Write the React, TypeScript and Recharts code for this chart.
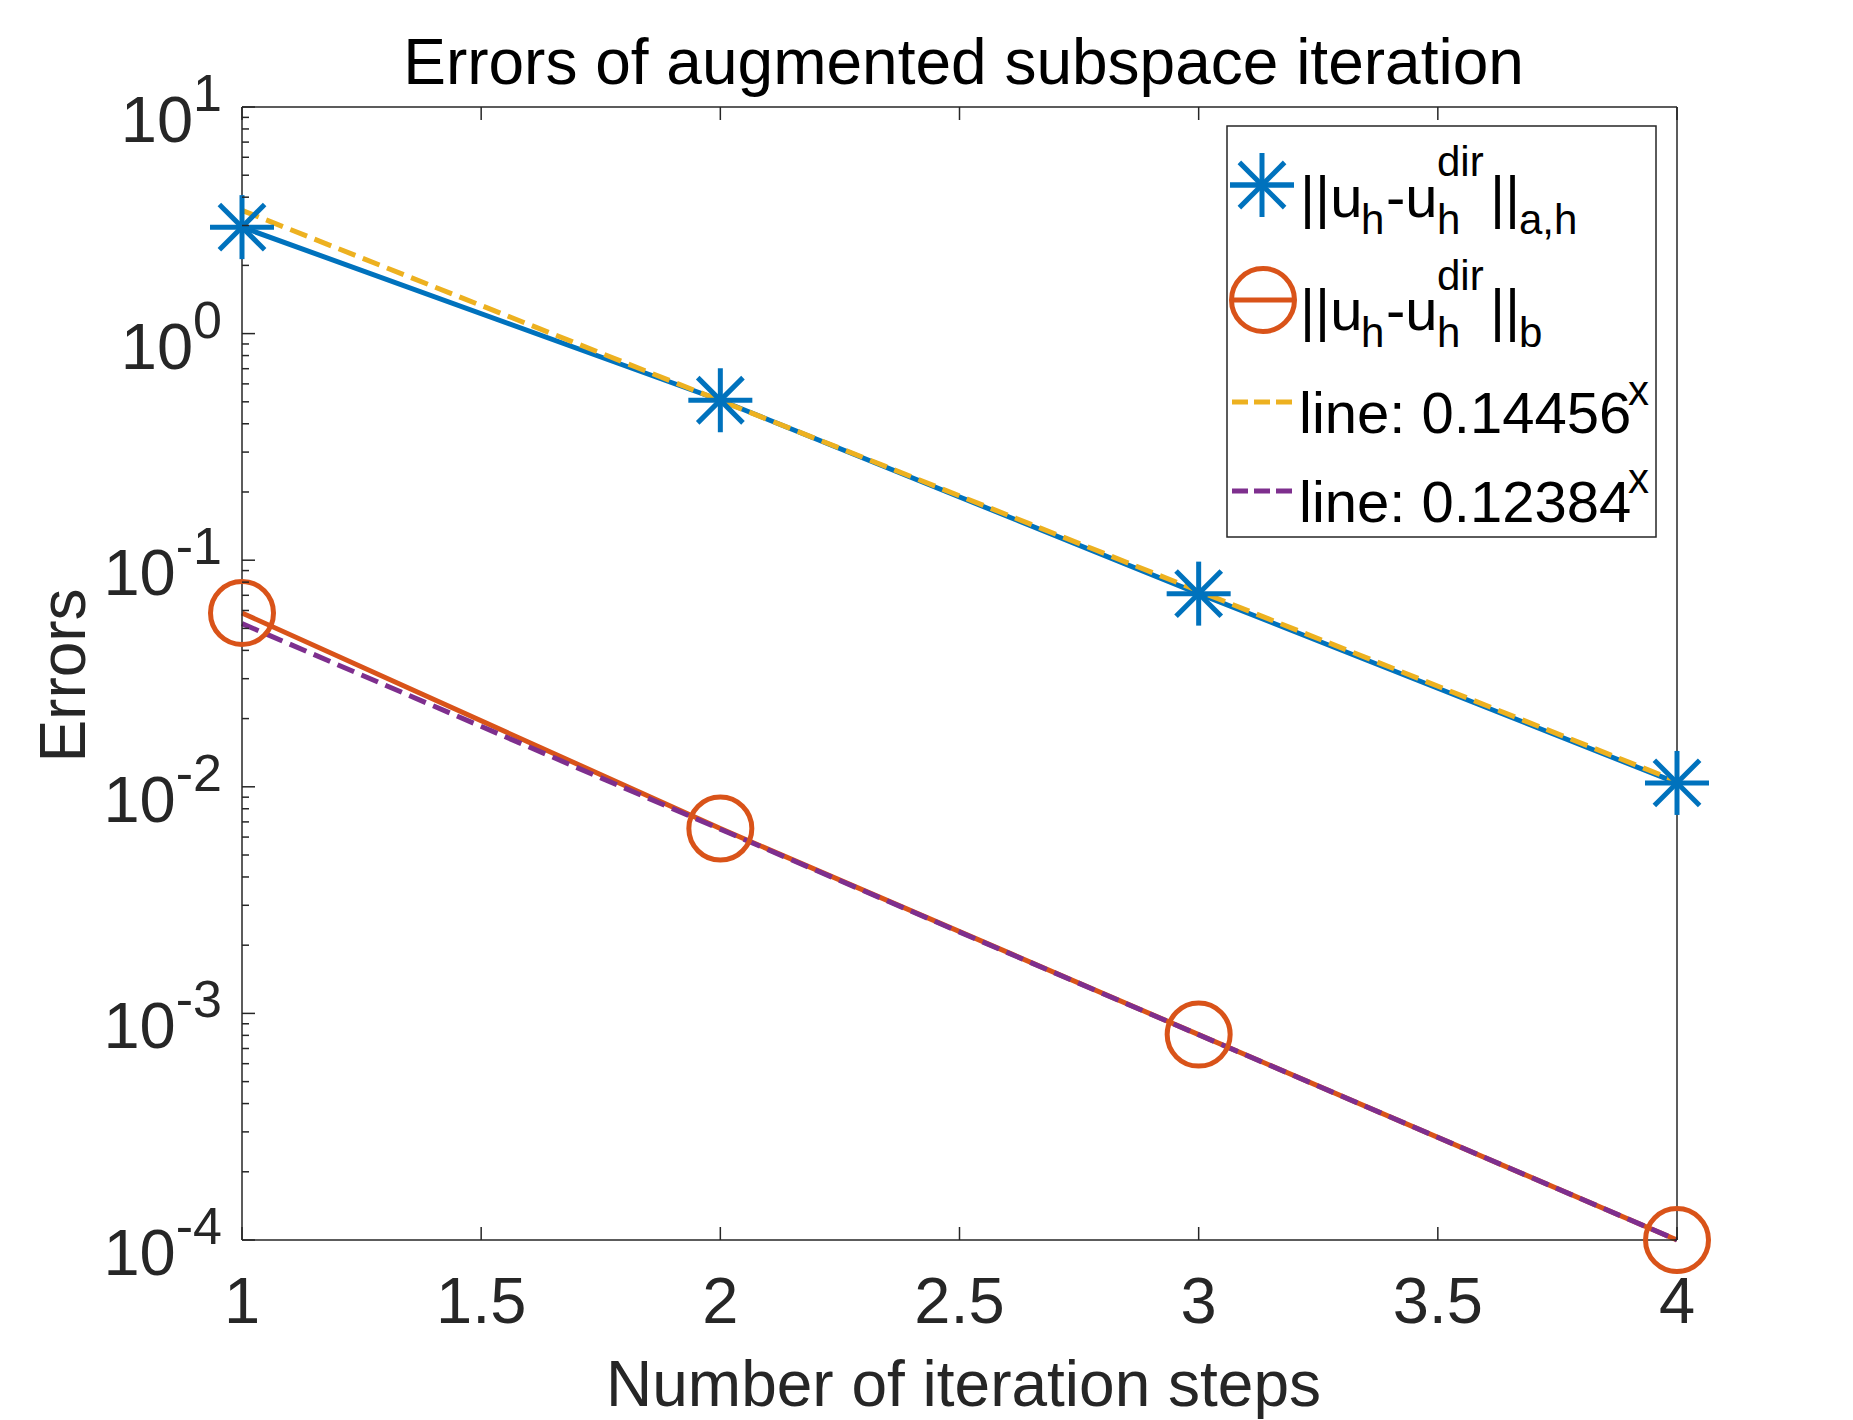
import React from "react";
import { LineChart, Line, XAxis, YAxis, Label } from "recharts";

// iteration step on the x axis
const steps = [1, 2, 3, 4];
// ||u_h - u_h^dir||_{a,h}
const errAH = [2.95, 0.508, 0.0712, 0.0104];
// ||u_h - u_h^dir||_b
const errB = [0.0585, 0.00654, 0.000806, 0.0001];
// fitted lines 0.14456^x and 0.12384^x (at each step)
const fitA = [3.5, 0.506, 0.0731, 0.01057];
const fitB = [0.0525, 0.0065, 0.000805, 0.0001];

const xTicks = [1, 1.5, 2, 2.5, 3, 3.5, 4];
const xTickLabels = ["1", "1.5", "2", "2.5", "3", "3.5", "4"];
const yDecades = [1e-4, 1e-3, 1e-2, 1e-1, 1, 10];
const yExponents = ["-4", "-3", "-2", "-1", "0", "1"];
const yMinorSteps = [2, 3, 4, 5, 6, 7, 8, 9];

const yTicks: number[] = [];
yDecades.forEach((d, i) => {
  yTicks.push(d);
  if (i < yDecades.length - 1) yMinorSteps.forEach((m) => yTicks.push(d * m));
});

const data = steps.map((s, i) => ({
  step: s,
  errAH: errAH[i],
  errB: errB[i],
  fitA: fitA[i],
  fitB: fitB[i],
}));

const BLUE = "#0072BD";
const ORANGE = "#D95319";
const YELLOW = "#EDB120";
const PURPLE = "#7E2F8E";
const AXIS = "#262626";
const FONT = '"Liberation Sans", Arial, Helvetica, sans-serif';
const DASH = "18 8";

const W = 1853;
const H = 1420;
const PLOT_L = 242;
const PLOT_R = 1677;
const PLOT_T = 107;
const PLOT_B = 1240;

const decadeIndex = (v: number) =>
  yDecades.findIndex((d) => Math.abs(Math.log10(d) - Math.log10(v)) < 1e-9);

function LeftTick(props: any) {
  const { x, y, payload } = props;
  const idx = decadeIndex(payload.value);
  const major = idx >= 0;
  return (
    <g>
      <line x1={x} x2={x + (major ? 13 : 7)} y1={y} y2={y} stroke={AXIS} strokeWidth={1.5} />
      {major && (
        <text x={x - 20} y={y + 35} textAnchor="end" fill={AXIS} fontSize={65} fontFamily={FONT}>
          10
          <tspan dy={-31} fontSize={52}>
            {yExponents[idx]}
          </tspan>
        </text>
      )}
    </g>
  );
}

function RightTick(props: any) {
  const { x, y, payload } = props;
  const major = decadeIndex(payload.value) >= 0;
  return <line x1={x} x2={x - (major ? 13 : 7)} y1={y} y2={y} stroke={AXIS} strokeWidth={1.5} />;
}

function BottomTick(props: any) {
  const { x, y, payload } = props;
  const idx = xTicks.indexOf(payload.value);
  return (
    <g>
      <line x1={x} x2={x} y1={y} y2={y - 13} stroke={AXIS} strokeWidth={1.5} />
      <text x={x} y={y + 83} textAnchor="middle" fill={AXIS} fontSize={65} fontFamily={FONT}>
        {xTickLabels[idx]}
      </text>
    </g>
  );
}

function TopTick(props: any) {
  const { x, y } = props;
  return <line x1={x} x2={x} y1={y} y2={y + 13} stroke={AXIS} strokeWidth={1.5} />;
}

function Star({ cx, cy, r = 32, color = BLUE }: { cx: number; cy: number; r?: number; color?: string }) {
  const d = r / Math.SQRT2;
  return (
    <g stroke={color} strokeWidth={5}>
      <line x1={cx - r} x2={cx + r} y1={cy} y2={cy} />
      <line x1={cx} x2={cx} y1={cy - r} y2={cy + r} />
      <line x1={cx - d} x2={cx + d} y1={cy - d} y2={cy + d} />
      <line x1={cx - d} x2={cx + d} y1={cy + d} y2={cy - d} />
    </g>
  );
}

const starDot = (p: any) => <Star key={`s${p.index}`} cx={p.cx} cy={p.cy} />;
const circleDot = (p: any) => (
  <circle key={`c${p.index}`} cx={p.cx} cy={p.cy} r={31.5} fill="none" stroke={ORANGE} strokeWidth={5} />
);

function Legend() {
  const main = 58;
  const small = 42;
  const txt = { fontFamily: FONT, fill: "#000" };
  return (
    <svg width={W} height={H} style={{ position: "absolute", left: 0, top: 0, pointerEvents: "none" }}>
      <rect x={1227} y={126} width={429} height={411} fill="#fff" stroke={AXIS} strokeWidth={1.5} />
      <line x1={1230} x2={1294} y1={185} y2={185} stroke={BLUE} strokeWidth={5} />
      <Star cx={1262} cy={185} />
      <text {...txt} fontSize={main} x={1300} y={217}>||u</text>
      <text {...txt} fontSize={small} x={1361} y={234}>h</text>
      <text {...txt} fontSize={main} x={1386} y={217}>-u</text>
      <text {...txt} fontSize={small} x={1437} y={176}>dir</text>
      <text {...txt} fontSize={small} x={1437} y={234}>h</text>
      <text {...txt} fontSize={main} x={1490} y={217}>||</text>
      <text {...txt} fontSize={small} x={1519} y={234}>a,h</text>

      <line x1={1231} x2={1295} y1={300} y2={300} stroke={ORANGE} strokeWidth={5} />
      <circle cx={1263} cy={300} r={31.5} fill="none" stroke={ORANGE} strokeWidth={5} />
      <text {...txt} fontSize={main} x={1300} y={330}>||u</text>
      <text {...txt} fontSize={small} x={1361} y={347}>h</text>
      <text {...txt} fontSize={main} x={1386} y={330}>-u</text>
      <text {...txt} fontSize={small} x={1437} y={290}>dir</text>
      <text {...txt} fontSize={small} x={1437} y={347}>h</text>
      <text {...txt} fontSize={main} x={1490} y={330}>||</text>
      <text {...txt} fontSize={small} x={1519} y={347}>b</text>

      <line x1={1232} x2={1293} y1={402} y2={402} stroke={YELLOW} strokeWidth={5} strokeDasharray="16 6" />
      <text {...txt} fontSize={main} x={1299} y={433}>line: 0.14456</text>
      <text {...txt} fontSize={small} x={1628} y={405}>x</text>

      <line x1={1232} x2={1293} y1={491} y2={491} stroke={PURPLE} strokeWidth={5} strokeDasharray="16 6" />
      <text {...txt} fontSize={main} x={1299} y={522}>line: 0.12384</text>
      <text {...txt} fontSize={small} x={1628} y={493}>x</text>
    </svg>
  );
}

export default function App() {
  const leftW = 200;
  const rightW = 10;
  const topH = 10;
  const bottomH = 160;
  const yMid = (PLOT_T + PLOT_B) / 2 + 2;
  return (
    <div style={{ position: "relative", width: W, height: H, background: "#fff" }}>
      <style>{"body{margin:0}"}</style>
      <LineChart
        width={W}
        height={H}
        data={data}
        margin={{
          top: PLOT_T - topH,
          left: PLOT_L - leftW,
          right: W - PLOT_R - rightW,
          bottom: H - PLOT_B - bottomH,
        }}
      >
        <XAxis
          xAxisId="bottom"
          dataKey="step"
          type="number"
          domain={[1, 4]}
          ticks={xTicks}
          interval={0}
          height={bottomH}
          tickSize={0}
          tickMargin={0}
          tickLine={false}
          tick={<BottomTick />}
          axisLine={{ stroke: AXIS, strokeWidth: 1.5 }}
        >
          <Label
            content={() => (
              <text x={(PLOT_L + PLOT_R) / 2 + 4} y={1406} textAnchor="middle" fill={AXIS} fontSize={64} fontFamily={FONT}>
                Number of iteration steps
              </text>
            )}
          />
        </XAxis>
        <XAxis
          xAxisId="top"
          orientation="top"
          dataKey="step"
          type="number"
          domain={[1, 4]}
          ticks={xTicks}
          interval={0}
          height={topH}
          tickSize={0}
          tickMargin={0}
          tickLine={false}
          tick={<TopTick />}
          axisLine={{ stroke: AXIS, strokeWidth: 1.5 }}
        >
          <Label
            content={() => (
              <text x={(PLOT_L + PLOT_R) / 2 + 4} y={84} textAnchor="middle" fill="#000" fontSize={64} fontFamily={FONT}>
                Errors of augmented subspace iteration
              </text>
            )}
          />
        </XAxis>
        <YAxis
          yAxisId="left"
          type="number"
          scale="log"
          domain={[1e-4, 10]}
          ticks={yTicks}
          interval={0}
          width={leftW}
          tickSize={0}
          tickMargin={0}
          tickLine={false}
          tick={<LeftTick />}
          axisLine={{ stroke: AXIS, strokeWidth: 1.5 }}
        >
          <Label
            content={() => (
              <text
                x={85}
                y={yMid}
                textAnchor="middle"
                fill={AXIS}
                fontSize={64}
                fontFamily={FONT}
                transform={`rotate(-90 85 ${yMid})`}
              >
                Errors
              </text>
            )}
          />
        </YAxis>
        <YAxis
          yAxisId="right"
          orientation="right"
          type="number"
          scale="log"
          domain={[1e-4, 10]}
          ticks={yTicks}
          interval={0}
          width={rightW}
          tickSize={0}
          tickMargin={0}
          tickLine={false}
          tick={<RightTick />}
          axisLine={{ stroke: AXIS, strokeWidth: 1.5 }}
        />
        <Line
          xAxisId="bottom"
          yAxisId="left"
          dataKey="errAH"
          stroke={BLUE}
          strokeWidth={5}
          dot={starDot}
          activeDot={false}
          isAnimationActive={false}
        />
        <Line
          xAxisId="bottom"
          yAxisId="left"
          dataKey="errB"
          stroke={ORANGE}
          strokeWidth={5}
          dot={circleDot}
          activeDot={false}
          isAnimationActive={false}
        />
        <Line
          xAxisId="bottom"
          yAxisId="left"
          dataKey="fitA"
          stroke={YELLOW}
          strokeWidth={5}
          strokeDasharray={DASH}
          dot={false}
          activeDot={false}
          isAnimationActive={false}
        />
        <Line
          xAxisId="bottom"
          yAxisId="left"
          dataKey="fitB"
          stroke={PURPLE}
          strokeWidth={5}
          strokeDasharray={DASH}
          dot={false}
          activeDot={false}
          isAnimationActive={false}
        />
      </LineChart>
      <Legend />
    </div>
  );
}
